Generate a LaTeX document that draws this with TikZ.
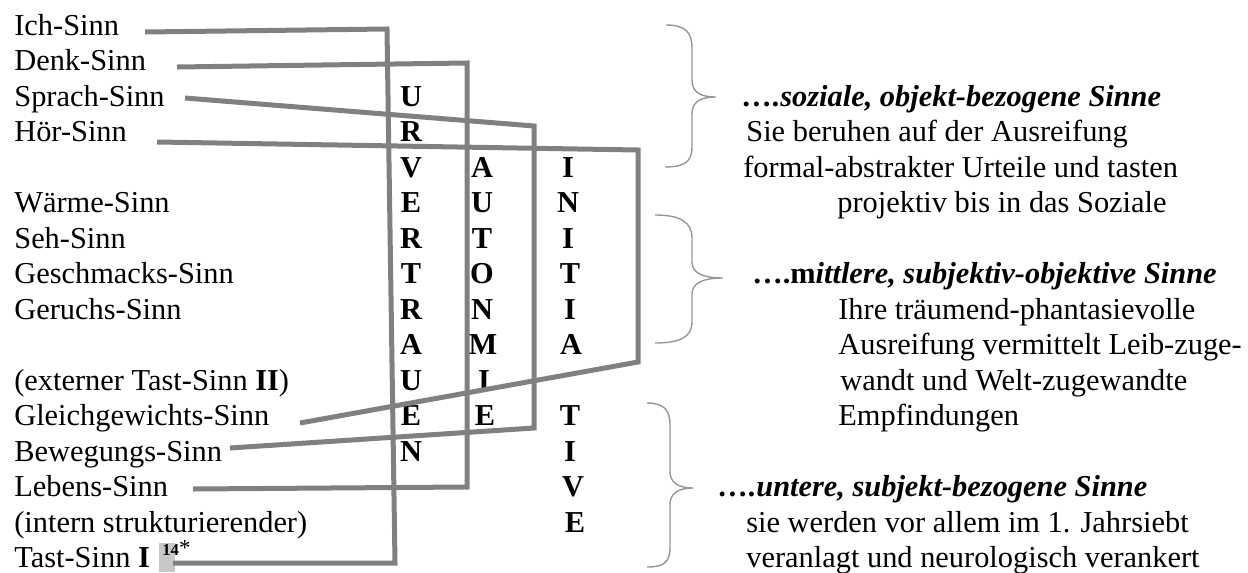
\documentclass[tikz,border=0pt]{standalone}
\usepackage{fontspec}
\setmainfont{Liberation Serif}
\definecolor{linegray}{RGB}{128,128,128}
\definecolor{bracegray}{RGB}{150,150,150}
\definecolor{fieldgray}{RGB}{200,200,200}
\begin{document}
\begin{tikzpicture}[x=0.02cm,y=-0.02cm,
  font=\fontsize{17.3}{20.8}\selectfont,
  sense/.style={anchor=base west,inner sep=0pt},
  letter/.style={anchor=base,inner sep=0pt,font=\fontsize{17.3}{20.8}\selectfont\bfseries},
  note/.style={anchor=base west,inner sep=0pt},
  senseline/.style={draw=linegray,line width=0.1cm},
  bracket/.style={draw=bracegray,line width=0.8pt}]
\useasboundingbox (0,0) rectangle (1248,572);
% field shading behind the footnote mark
\fill[fieldgray] (159,543) rectangle (175,572);
% the twelve senses
\node[sense] (ich)       at (14,35)  {Ich-Sinn};
\node[sense] (denk)      at (14,70)  {Denk-Sinn};
\node[sense] (sprach)    at (14,106) {Sprach-Sinn};
\node[sense] (hoer)      at (14,141) {Hör-Sinn};
\node[sense] (waerme)    at (14,212) {Wärme-Sinn};
\node[sense] (seh)       at (14,248) {Seh-Sinn};
\node[sense] (geschmack) at (14,283) {Geschmacks-Sinn};
\node[sense] (geruch)    at (14,319) {Geruchs-Sinn};
\node[sense] (extern)    at (14,390) {(externer Tast-Sinn \textbf{II})};
\node[sense] (gleich)    at (14,425) {Gleichgewichts-Sinn};
\node[sense] (beweg)     at (14,461) {Bewegungs-Sinn};
\node[sense] (leben)     at (14,496) {Lebens-Sinn};
\node[sense] (intern)    at (14,532) {(intern strukturierender)};
\node[sense] (tast)      at (14,567) {Tast-Sinn \textbf{I}};
\node[sense,font=\fontsize{9.5}{11}\selectfont] (fn) at (162,555)
  {\textbf{14}\fontsize{13}{14}\selectfont*};
% URVERTRAUEN
\node[letter] (u1)  at (411,106) {U};
\node[letter] (u2)  at (411,141) {R};
\node[letter] (u3)  at (411,177) {V};
\node[letter] (u4)  at (411,212) {E};
\node[letter] (u5)  at (411,248) {R};
\node[letter] (u6)  at (411,283) {T};
\node[letter] (u7)  at (411,319) {R};
\node[letter] (u8)  at (411,354) {A};
\node[letter] (u9)  at (411,390) {U};
\node[letter] (u10) at (411,425) {E};
\node[letter] (u11) at (411,461) {N};
% AUTONOMIE
\node[letter] (a1) at (482,177) {A};
\node[letter] (a2) at (482,212) {U};
\node[letter] (a3) at (482,248) {T};
\node[letter] (a4) at (482,283) {O};
\node[letter] (a5) at (482,319) {N};
\node[letter] (a6) at (483,354) {M};
\node[letter] (a7) at (484,390) {I};
\node[letter] (a8) at (485,425) {E};
% INITIATIVE
\node[letter] (i1)  at (568,177) {I};
\node[letter] (i2)  at (568,212) {N};
\node[letter] (i3)  at (568,248) {I};
\node[letter] (i4)  at (570,283) {T};
\node[letter] (i5)  at (570,319) {I};
\node[letter] (i6)  at (571,354) {A};
\node[letter] (i7)  at (570,425) {T};
\node[letter] (i8)  at (570,461) {I};
\node[letter] (i9)  at (573,496) {V};
\node[letter] (i10) at (575,532) {E};
% corners of the four loops
\coordinate (ich-a) at (145,32);   \coordinate (ich-b) at (387,29);
\coordinate (ich-c) at (395,563);  \coordinate (tast-a) at (173,563);
\coordinate (denk-a) at (177,67);  \coordinate (denk-b) at (467,63);
\coordinate (denk-c) at (467,487); \coordinate (leben-a) at (193,489);
\coordinate (sprach-a) at (185,98);  \coordinate (sprach-b) at (534,126);
\coordinate (sprach-c) at (534,428); \coordinate (beweg-a) at (230,448);
\coordinate (hoer-a) at (157,142); \coordinate (hoer-b) at (638,150);
\coordinate (hoer-c) at (638,362); \coordinate (gleich-a) at (300,423);
\draw[senseline] (ich-a) -- (ich-b) -- (ich-c) -- (tast-a);
\draw[senseline] (denk-a) -- (denk-b) -- (denk-c) -- (leben-a);
\draw[senseline] (sprach-a) -- (sprach-b) -- (sprach-c) -- (beweg-a);
\draw[senseline] (hoer-a) -- (hoer-b) -- (hoer-c) -- (gleich-a);
% braces
\draw[bracket] (666,25) .. controls (686,25) and (692,33) .. (692,48) -- (692,80)
  .. controls (692,92) and (700,97) .. (716,97) .. controls (700,97) and (692,102) .. (692,114)
  -- (692,146) .. controls (692,161) and (686,167) .. (665,167);
\draw[bracket] (655,215) .. controls (680,215) and (692,222) .. (692,238) -- (692,262)
  .. controls (692,273) and (703,278) .. (723,278) .. controls (703,278) and (692,283) .. (692,294)
  -- (692,322) .. controls (692,337) and (680,343) .. (655,343);
\draw[bracket] (647,403) .. controls (664,403) and (670,410) .. (670,425) -- (670,472)
  .. controls (670,482) and (678,488) .. (693,488) .. controls (678,488) and (670,494) .. (670,504)
  -- (670,548) .. controls (670,562) and (664,567) .. (647,567);
% the three groups
\node[note] (oben)   at (742,106) {\textbf{\textit{….soziale, objekt-bezogene Sinne}}};
\node[note] (oben1)  at (746,141) {Sie beruhen auf der Ausreifung};
\node[note] (oben2)  at (743,177) {formal-abstrakter Urteile und tasten};
\node[note] (oben3)  at (837,212) {projektiv bis in das Soziale};
\node[note] (mitte)  at (752,283) {\textbf{….m\textit{ittlere, subjektiv-objektive Sinne}}};
\node[note] (mitte1) at (838,319) {Ihre träumend-phantasievolle};
\node[note] (mitte2) at (838,354) {Ausreifung vermittelt Leib-zuge-};
\node[note] (mitte3) at (840,390) {wandt und Welt-zugewandte};
\node[note] (mitte4) at (838,425) {Empfindungen};
\node[note] (unten)  at (718,496) {\textbf{\textit{….untere, subjekt-bezogene Sinne}}};
\node[note] (unten1) at (746,532) {sie werden vor allem im 1. Jahrsiebt};
\node[note] (unten2) at (746,567) {veranlagt und neurologisch verankert};
\end{tikzpicture}
\end{document}
